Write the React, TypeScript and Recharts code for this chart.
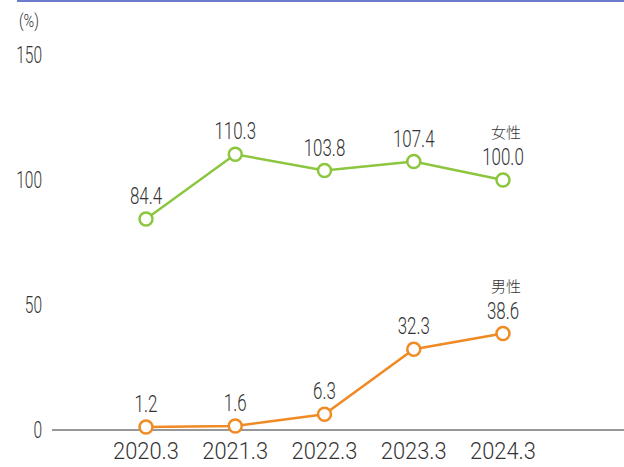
import React from 'react';
import { LineChart, Line, XAxis, YAxis, LabelList } from 'recharts';

const years = ['2020.3', '2021.3', '2022.3', '2023.3', '2024.3'];
const female = [84.4, 110.3, 103.8, 107.4, 100.0];
const male = [1.2, 1.6, 6.3, 32.3, 38.6];
const yTicks = [0, 50, 100, 150];

const data = years.map((year, i) => ({ year, female: female[i], male: male[i] }));

const NUM_FONT = 'Roboto, "Liberation Sans", sans-serif';
const CJK_FONT = '"Noto Sans CJK JP", "Noto Sans", sans-serif';
const TEXT = '#333333';
const GREEN = '#8cc63f';
const ORANGE = '#f08a24';

// condensed text: no narrow font installed, so squeeze horizontally
function Narrow({ x, y, sx, size, anchor = 'middle', children }: any) {
  return (
    <text
      transform={`translate(${x},${y}) scale(${sx},1)`}
      textAnchor={anchor}
      fill={TEXT}
      fontSize={size}
      fontWeight={300}
      fontFamily={NUM_FONT}
    >
      {children}
    </text>
  );
}

const XTick = (props: any) => (
  <Narrow x={props.x} y={props.y + 29} sx={0.93} size={23.5}>
    {props.payload.value}
  </Narrow>
);

const YTick = (props: any) => (
  <Narrow x={props.x} y={props.y + 8} sx={0.66} size={23.5} anchor="end">
    {props.payload.value}
  </Narrow>
);

// value label above each point, plus the series name above the last one
function makeLabel(name: string) {
  return (props: any) => {
    const { x, y, value, index } = props;
    return (
      <g>
        {index === years.length - 1 && (
          <text
            x={x + 3}
            y={y - 42}
            textAnchor="middle"
            fill={TEXT}
            fontSize={15}
            fontWeight={300}
            fontFamily={CJK_FONT}
          >
            {name}
          </text>
        )}
        <Narrow x={x} y={y - 15} sx={0.72} size={23.5}>
          {Number(value).toFixed(1)}
        </Narrow>
      </g>
    );
  };
}

export default function App() {
  return (
    <div style={{ position: 'relative', width: 624, height: 467, background: '#fff' }}>
      <style>{'body{margin:0}'}</style>
      <div style={{ position: 'absolute', left: 17, top: 0, width: 607, height: 2, background: '#6c7bcb' }} />
      <svg style={{ position: 'absolute', left: 0, top: 0 }} width={60} height={40}>
        <Narrow x={19} y={27} sx={0.8} size={18} anchor="start">
          (%)
        </Narrow>
      </svg>
      <LineChart width={624} height={467} data={data} margin={{ top: 55, right: 0, bottom: 7, left: 0 }}>
        <XAxis
          dataKey="year"
          padding={{ left: 94, right: 121 }}
          axisLine={{ stroke: TEXT, strokeWidth: 1.2 }}
          tickLine={false}
          tickSize={0}
          tickMargin={0}
          height={30}
          tick={<XTick />}
        />
        <YAxis
          domain={[0, 150]}
          ticks={yTicks}
          width={52}
          axisLine={false}
          tickLine={false}
          tickSize={0}
          tickMargin={10}
          tick={<YTick />}
        />
        <Line
          dataKey="female"
          stroke={GREEN}
          strokeWidth={2.5}
          dot={{ r: 6.5, fill: '#fff', stroke: GREEN, strokeWidth: 2.5 }}
          isAnimationActive={false}
        >
          <LabelList dataKey="female" content={makeLabel('女性')} />
        </Line>
        <Line
          dataKey="male"
          stroke={ORANGE}
          strokeWidth={2.5}
          dot={{ r: 6.5, fill: '#fff', stroke: ORANGE, strokeWidth: 2.5 }}
          isAnimationActive={false}
        >
          <LabelList dataKey="male" content={makeLabel('男性')} />
        </Line>
      </LineChart>
    </div>
  );
}
